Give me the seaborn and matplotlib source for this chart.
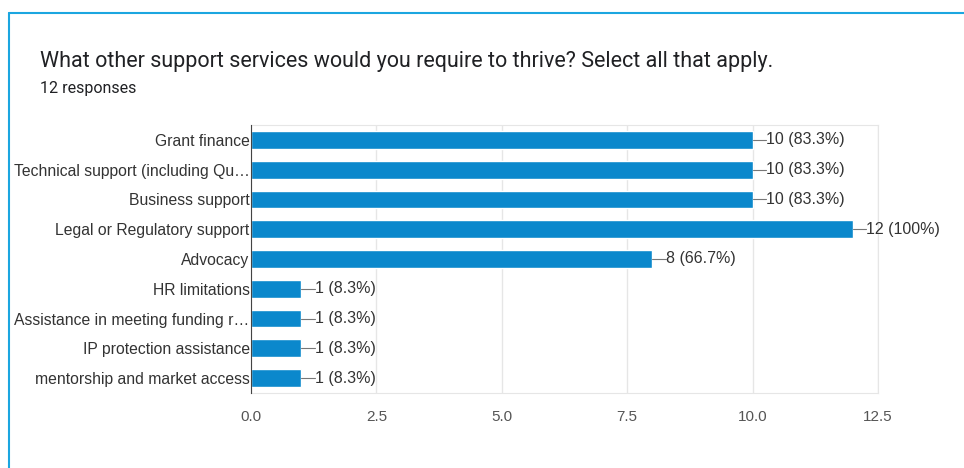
import pandas as pd
import matplotlib.pyplot as plt
import seaborn as sns

# survey answers (12 respondents)
options = ['Grant finance', 'Technical support (including Qu…', 'Business support',
           'Legal or Regulatory support', 'Advocacy', 'HR limitations',
           'Assistance in meeting funding r…', 'IP protection assistance',
           'mentorship and market access']
counts = [10, 10, 10, 12, 8, 1, 1, 1, 1]
n_responses = 12
xticks = [0.0, 2.5, 5.0, 7.5, 10.0, 12.5]

df = pd.DataFrame({'option': options, 'count': counts})

sns.set_style('white')
plt.rcParams['font.family'] = ['Liberation Sans', 'DejaVu Sans']

fig = plt.figure(figsize=(9.64, 4.68), dpi=100)
ax = fig.add_axes([0.2604, 0.1603, 0.6504, 0.5726])

sns.barplot(data=df, x='count', y='option', color='#0B88CC', saturation=1,
            width=0.6, orient='h', ax=ax, zorder=3)

ax.set_xlim(0, 12.5)
ax.set_ylim(len(options) - 0.5, -0.5)
ax.set_xticks(xticks)
ax.set_xticklabels(['%.1f' % t for t in xticks])
ax.grid(axis='x', color='#e6e6e6', linewidth=1, zorder=0)
for s in ['top', 'right', 'bottom']:
    ax.spines[s].set_color('#e6e6e6')
ax.spines['left'].set_color('#444444')
ax.spines['left'].set_zorder(4)
ax.tick_params(axis='y', length=0, labelsize=11.3, colors='#333333', pad=1)
ax.tick_params(axis='x', length=0, labelsize=11, colors='#555555', pad=12)
ax.set_xlabel('')
ax.set_ylabel('')

# value labels with short connector
for i, c in enumerate(counts):
    ax.plot([c, c + 0.27], [i, i], color='#777777', linewidth=0.8, zorder=4)
    pct = c / n_responses * 100
    txt = '%d (%s%%)' % (c, ('%.1f' % pct).rstrip('0').rstrip('.') if pct != 100 else '100')
    ax.text(c + 0.27, i, txt, va='center', ha='left', fontsize=11.5, color='#333333')

fig.text(40 / 964, 1 - 61 / 468, 'What other support services would you require to thrive? Select all that apply.',
         fontsize=15.5, color='#202124', va='center', ha='left', family=['Roboto', 'DejaVu Sans'])
fig.text(40 / 964, 1 - 88 / 468, '12 responses', fontsize=11.5, color='#202124', va='center', ha='left',
         family=['Roboto', 'DejaVu Sans'])

# card border
fig.add_artist(plt.Line2D([9 / 964, 9 / 964], [0, 1 - 13 / 468], color='#1BA6E0', linewidth=1.5))
fig.add_artist(plt.Line2D([9 / 964, 1], [1 - 13 / 468, 1 - 13 / 468], color='#1BA6E0', linewidth=1.5))

fig.savefig('out.png', dpi=100)
